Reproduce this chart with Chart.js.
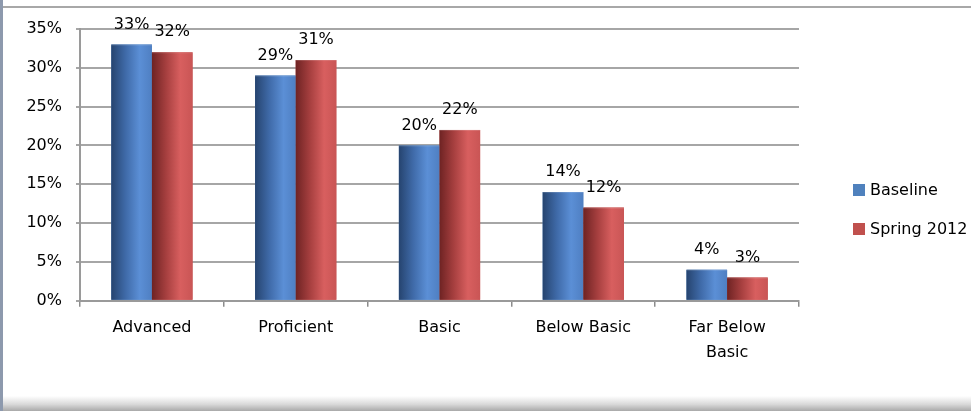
<!DOCTYPE html>
<html>
<head>
<meta charset="utf-8">
<script src="https://cdn.jsdelivr.net/npm/chart.js@4"></script>
<style>
  html, body { margin: 0; padding: 0; background: #fff; }
  #frame { position: relative; width: 971px; height: 411px; overflow: hidden; }
  #leftEdge { position: absolute; left: 0; top: 0; width: 3px; height: 411px; background: #8d99ad; }
  #topEdge { position: absolute; left: 3px; top: 6px; right: 0; height: 2px; background: #a8a8a8; }
  #bottomEdge { position: absolute; left: 3px; right: 0; top: 396px; height: 15px;
    background: linear-gradient(#ffffff, #d9d9d9 55%, #a9a9a9); }
  #wrap { position: absolute; left: 0; top: 0; width: 971px; height: 411px; }
</style>
</head>
<body>
<div id="frame">
  <div id="leftEdge"></div>
  <div id="topEdge"></div>
  <div id="bottomEdge"></div>
  <div id="wrap"><canvas id="chart"></canvas></div>
</div>
<script>
const categories = ['Advanced', 'Proficient', 'Basic', 'Below Basic', ['Far Below', 'Basic']];
const baseline = [33, 29, 20, 14, 4];
const spring2012 = [32, 31, 22, 12, 3];
const seriesNames = ['Baseline', 'Spring 2012'];
const yTicks = [0, 5, 10, 15, 20, 25, 30, 35];

const FONT = 'DejaVu Sans';

// horizontal shading of each bar: [dark edge, mid, light, right edge]
const shades = [
  ['#26446f', '#3f6aa8', '#5b8fd6', '#4f7fc2'],
  ['#6e2323', '#a63f3f', '#d85f5f', '#c95555']
];

const barShading = {
  id: 'barShading',
  afterDatasetsDraw(chart) {
    const ctx = chart.ctx;
    chart.data.datasets.forEach((ds, di) => {
      const meta = chart.getDatasetMeta(di);
      const s = shades[di];
      meta.data.forEach(bar => {
        const p = bar.getProps(['x', 'y', 'base', 'width'], true);
        const l = p.x - p.width / 2, r = p.x + p.width / 2;
        const g = ctx.createLinearGradient(l, 0, r, 0);
        g.addColorStop(0, s[0]);
        g.addColorStop(0.35, s[1]);
        g.addColorStop(0.7, s[2]);
        g.addColorStop(1, s[3]);
        ctx.save();
        ctx.fillStyle = g;
        ctx.fillRect(l, p.y, p.width, p.base - p.y);
        ctx.fillStyle = 'rgba(255,255,255,0.15)';
        ctx.fillRect(l, p.y, p.width, 1);
        ctx.restore();
      });
    });
  }
};

const valueLabels = {
  id: 'valueLabels',
  afterDatasetsDraw(chart) {
    const ctx = chart.ctx;
    ctx.save();
    ctx.font = '16px "' + FONT + '"';
    ctx.fillStyle = '#000';
    ctx.textAlign = 'center';
    ctx.textBaseline = 'middle';
    chart.data.datasets.forEach((ds, di) => {
      chart.getDatasetMeta(di).data.forEach((bar, i) => {
        ctx.fillText(ds.data[i] + '%', bar.x, bar.y - 20);
      });
    });
    ctx.restore();
  }
};

const sideLegend = {
  id: 'sideLegend',
  afterDraw(chart) {
    const ctx = chart.ctx;
    const x = 853, rows = [190, 229];
    ctx.save();
    ctx.font = '16px "' + FONT + '"';
    ctx.textBaseline = 'middle';
    chart.data.datasets.forEach((ds, di) => {
      const y = rows[di];
      ctx.fillStyle = ds.backgroundColor;
      ctx.fillRect(x, y - 6, 12, 12);
      ctx.fillStyle = '#000';
      ctx.fillText(ds.label, x + 17, y + 1);
    });
    ctx.restore();
  }
};

new Chart(document.getElementById('chart'), {
  type: 'bar',
  data: {
    labels: categories,
    datasets: [
      { label: seriesNames[0], data: baseline, backgroundColor: '#4f81bd' },
      { label: seriesNames[1], data: spring2012, backgroundColor: '#c0504d' }
    ]
  },
  options: {
    responsive: true,
    maintainAspectRatio: false,
    animation: false,
    layout: { padding: { left: 0, right: 172, top: 29, bottom: 37 } },
    datasets: { bar: { categoryPercentage: 0.565, barPercentage: 1.0 } },
    plugins: {
      legend: { display: false },
      tooltip: { enabled: false }
    },
    scales: {
      x: {
        grid: { display: true, drawOnChartArea: false, offset: true, tickLength: 6, color: '#8c8c8c', lineWidth: 1.5 },
        border: { display: true, color: '#9a9a9a', width: 2 },
        ticks: { color: '#000', font: { family: FONT, size: 16, lineHeight: 1.6 }, padding: 8, maxRotation: 0, autoSkip: false }
      },
      y: {
        min: 0,
        max: 35,
        afterFit: (axis) => { axis.width = 80; },
        afterBuildTicks: (axis) => { axis.ticks = yTicks.map(v => ({ value: v })); },
        grid: { color: '#a6a6a6', lineWidth: 2, tickLength: 4 },
        border: { display: true, color: '#9a9a9a', width: 2 },
        ticks: {
          color: '#000',
          font: { family: FONT, size: 16 },
          padding: 14,
          callback: (v) => v + '%'
        }
      }
    }
  },
  plugins: [barShading, valueLabels, sideLegend]
});
</script>
</body>
</html>
